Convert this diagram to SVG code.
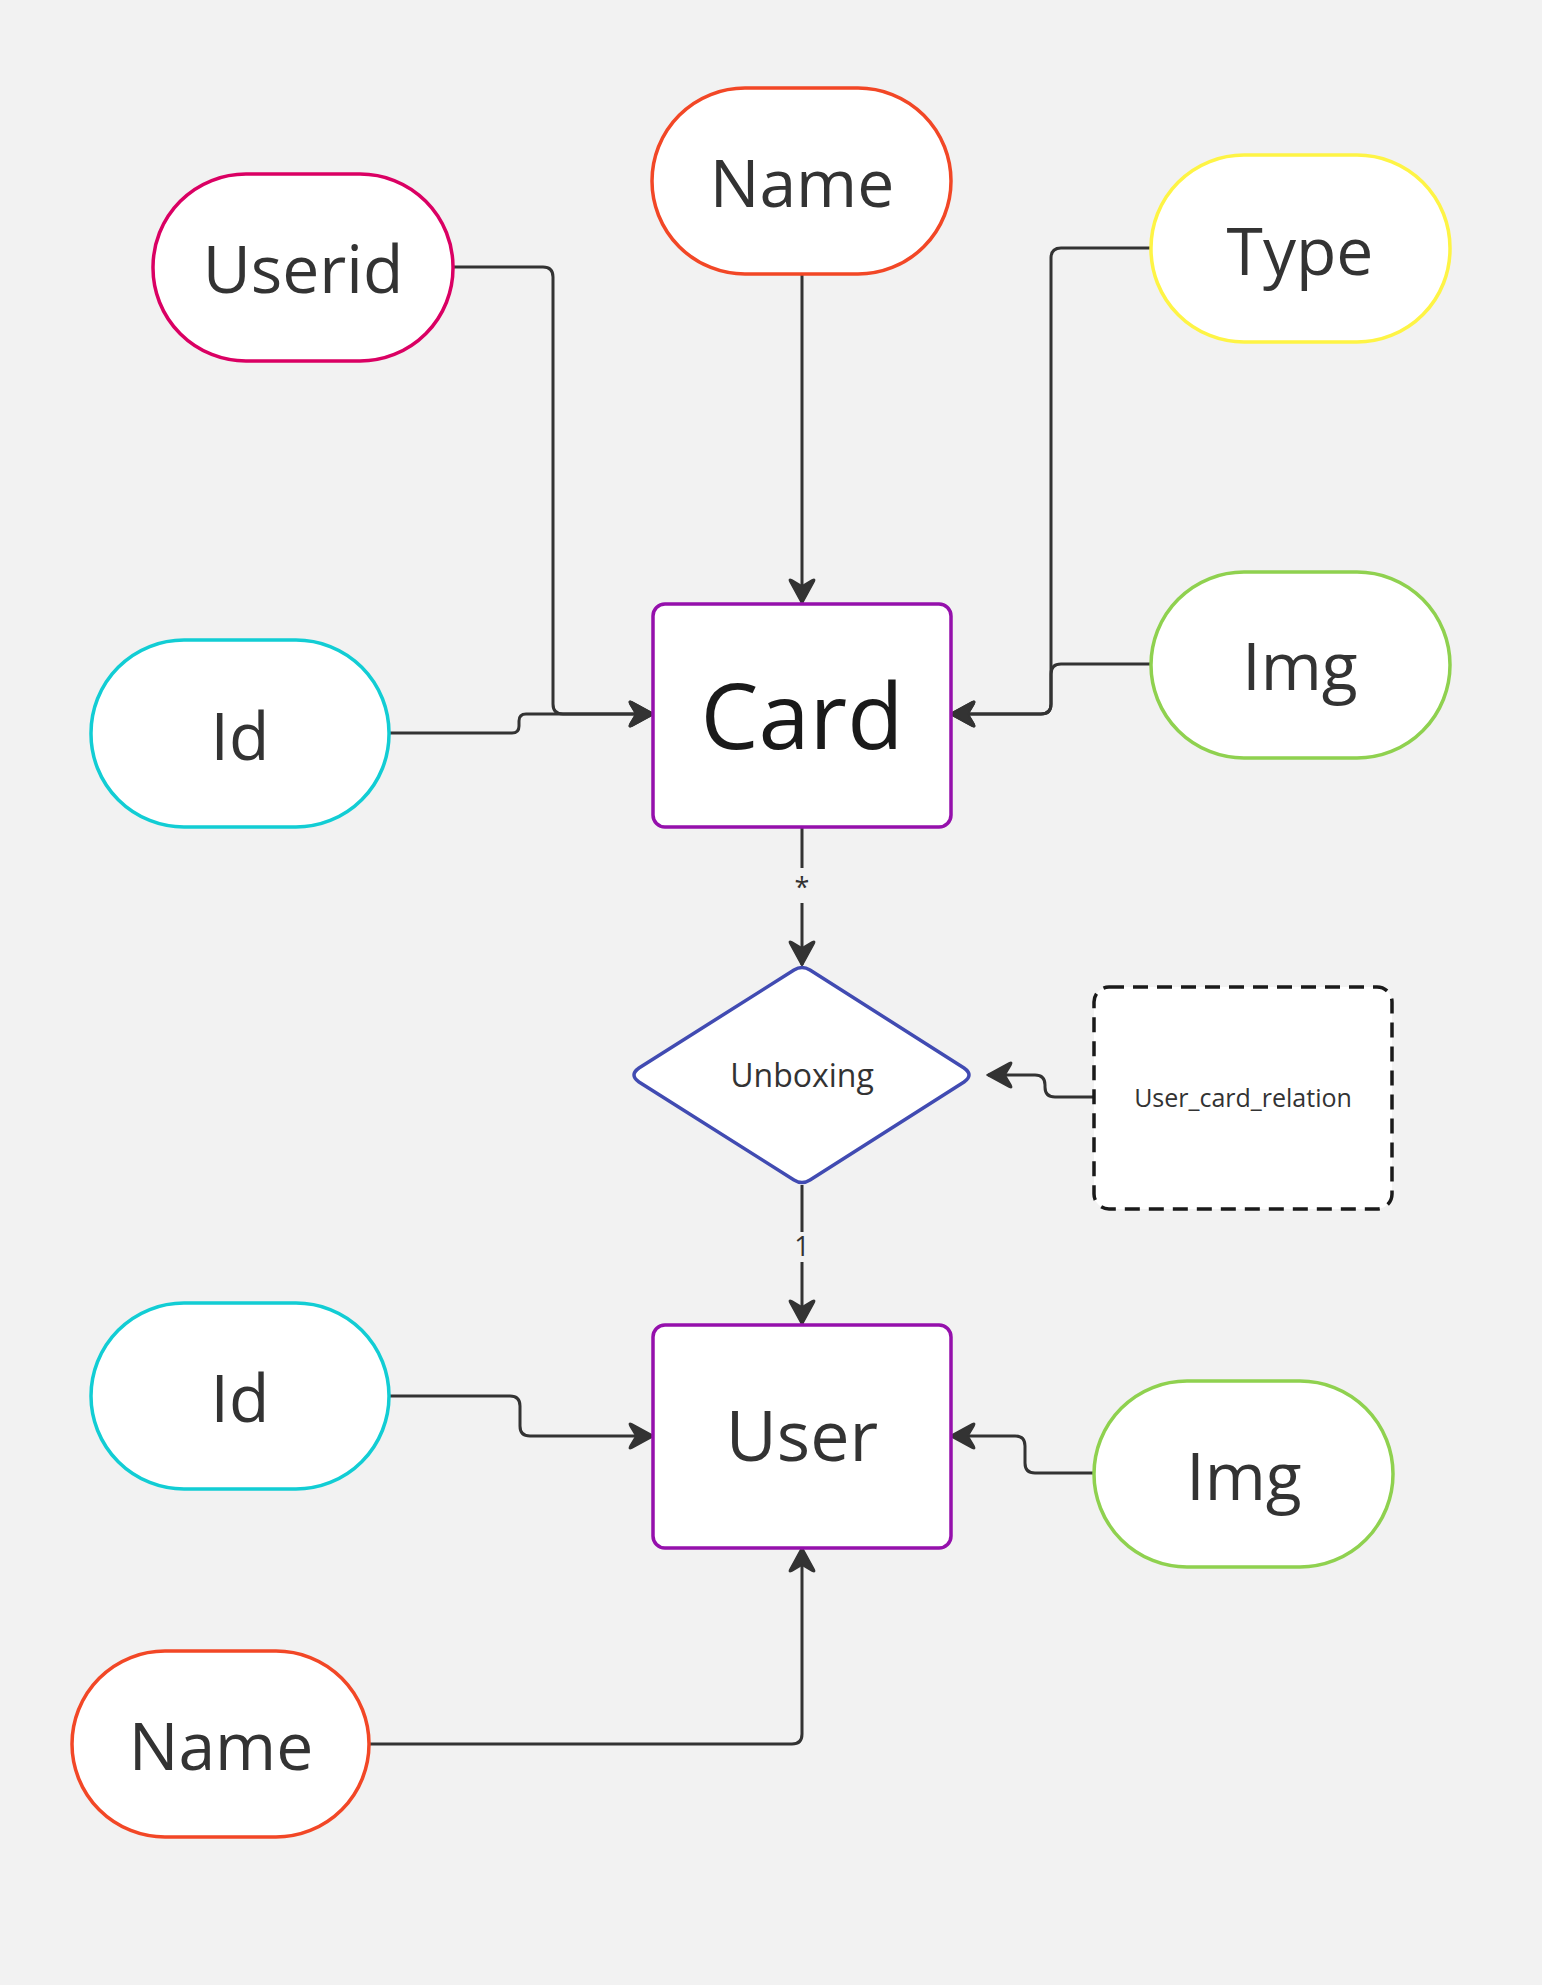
<svg xmlns="http://www.w3.org/2000/svg" width="1542" height="1985" viewBox="0 0 1542 1985">
<style>
.t{font-family:"Open Sans","Noto Sans","Liberation Sans",sans-serif;fill:#333;text-anchor:middle}
.attr{font-size:66px}
.pill{fill:#fff;stroke-width:3.5}
.ent{fill:#fff;stroke:#9510ac;stroke-width:3.5}
.con{fill:none;stroke:#333;stroke-width:3;stroke-linejoin:round}
.arr{marker-end:url(#ah)}
.lbl{font-size:27px}
</style>
<defs>
<marker id="ah" viewBox="-28 -15 30 30" refX="0" refY="0" markerWidth="30" markerHeight="30" markerUnits="userSpaceOnUse" orient="auto">
<path d="M1,0 L-21,-12 Q-25,-14 -23,-10 L-17,0 L-23,10 Q-25,14 -21,12 Z" fill="#333" stroke="#333" stroke-width="1.5" stroke-linejoin="round"/>
</marker>
</defs>
<rect x="0" y="0" width="1542" height="1985" fill="#f2f2f2"/>

<g id="connectors">
<path class="con arr" d="M802,274 V603"/>
<path class="con arr" d="M453,267 H543 Q553,267 553,277 V704 Q553,714 563,714 H653"/>
<path class="con arr" d="M389,733 H512 Q519,733 519,726 V721 Q519,714 526,714 H653"/>
<path class="con arr" d="M1151,248 H1061 Q1051,248 1051,258 V704 Q1051,714 1041,714 H951"/>
<path class="con arr" d="M1151,664 H1061 Q1051,664 1051,674 V704 Q1051,714 1041,714 H951"/>
<path class="con" d="M802,827 V868"/>
<path class="con arr" d="M802,903 V965"/>
<text class="t lbl" x="802" y="897">*</text>
<path class="con arr" d="M1094,1097 H1055 Q1045,1097 1045,1087 V1085 Q1045,1075 1035,1075 H988"/>
<path class="con" d="M802,1185 V1232"/>
<path class="con arr" d="M802,1262 V1324"/>
<text class="t lbl" x="802" y="1256">1</text>
<path class="con arr" d="M389,1396 H510 Q520,1396 520,1406 V1426 Q520,1436 530,1436 H653"/>
<path class="con arr" d="M1094,1473 H1035 Q1025,1473 1025,1463 V1446 Q1025,1436 1015,1436 H951"/>
<path class="con arr" d="M369,1744 H792 Q802,1744 802,1734 V1548"/>
</g>

<g id="card-name">
<rect class="pill" x="652" y="88" width="299" height="186" rx="93" stroke="#f24726"/>
<text class="t attr" x="802" y="207">Name</text>
</g>
<g id="card-userid">
<rect class="pill" x="153" y="174" width="300" height="187" rx="93" stroke="#da0063"/>
<text class="t attr" x="303" y="293">Userid</text>
</g>
<g id="card-type">
<rect class="pill" x="1151" y="155" width="299" height="187" rx="93" stroke="#fef445"/>
<text class="t attr" x="1300" y="275">Type</text>
</g>
<g id="card-id">
<rect class="pill" x="91" y="640" width="298" height="187" rx="93" stroke="#12cdd4"/>
<text class="t attr" x="240" y="760">Id</text>
</g>
<g id="card-img">
<rect class="pill" x="1151" y="572" width="299" height="186" rx="93" stroke="#8fd14f"/>
<text class="t attr" x="1300" y="690">Img</text>
</g>
<g id="card">
<rect class="ent" x="653" y="604" width="298" height="223" rx="12"/>
<text class="t" x="802" y="749" font-size="92" style="fill:#1a1a1a">Card</text>
</g>
<g id="unboxing">
<path d="M794,970 Q802,965 810,970 L964,1068 Q974,1075 964,1082 L810,1180 Q802,1185 794,1180 L639,1082 Q629,1075 639,1068 Z" fill="#fff" stroke="#414bb2" stroke-width="3.5"/>
<text class="t" x="802" y="1087" font-size="32">Unboxing</text>
</g>
<g id="user-card-relation">
<rect x="1094" y="987" width="298" height="222" rx="15" fill="#fff" stroke="#1a1a1a" stroke-width="3.5" stroke-dasharray="15 9"/>
<text class="t" x="1243" y="1107" font-size="25">User_card_relation</text>
</g>
<g id="user">
<rect class="ent" x="653" y="1325" width="298" height="223" rx="12"/>
<text class="t" x="802" y="1461" font-size="70">User</text>
</g>
<g id="user-id">
<rect class="pill" x="91" y="1303" width="298" height="186" rx="93" stroke="#12cdd4"/>
<text class="t attr" x="240" y="1422">Id</text>
</g>
<g id="user-img">
<rect class="pill" x="1094" y="1381" width="299" height="186" rx="93" stroke="#8fd14f"/>
<text class="t attr" x="1244" y="1500">Img</text>
</g>
<g id="user-name">
<rect class="pill" x="72" y="1651" width="297" height="186" rx="93" stroke="#f24726"/>
<text class="t attr" x="221" y="1770">Name</text>
</g>
</svg>
